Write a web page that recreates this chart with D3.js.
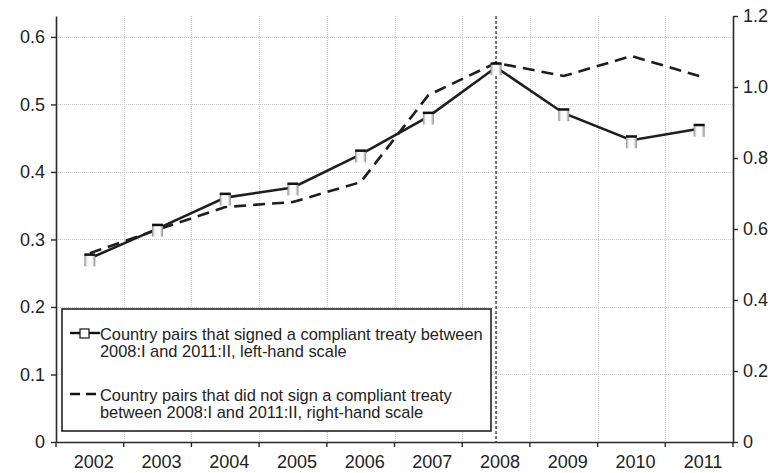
<!DOCTYPE html>
<html>
<head>
<meta charset="utf-8">
<script src="https://cdn.jsdelivr.net/npm/d3@7"></script>
<style>
  body { margin: 0; background: #fff; }
  svg { display: block; font-family: "Liberation Sans", Arial, sans-serif; }
</style>
</head>
<body>
<svg id="chart"></svg>
<script>
// data
var years = ["2002","2003","2004","2005","2006","2007","2008","2009","2010","2011"];
var signed = [0.272, 0.316, 0.362, 0.377, 0.426, 0.482, 0.555, 0.487, 0.447, 0.464];
var notSigned = [0.532, 0.598, 0.662, 0.676, 0.732, 0.977, 1.068, 1.031, 1.087, 1.031];
var leftTicks = [0, 0.1, 0.2, 0.3, 0.4, 0.5, 0.6];
var rightTicks = [0, 0.2, 0.4, 0.6, 0.8, 1.0, 1.2];
var markerYear = "2008";
var legendLabels = [
  ["Country pairs that signed a compliant treaty between", "2008:I and 2011:II, left-hand scale"],
  ["Country pairs that did not sign a compliant treaty", "between 2008:I and 2011:II, right-hand scale"]
];

// size params
var W = 776, H = 473;
var margin = {top: 16, right: 43, bottom: 31, left: 56};
var width = W - margin.left - margin.right;
var height = H - margin.top - margin.bottom;

var svg = d3.select("#chart").attr("width", W).attr("height", H);
var g = svg.append("g").attr("transform", "translate(" + margin.left + "," + margin.top + ")");

// scales
var x = d3.scaleBand().domain(years).range([0, width]);
var yL = d3.scaleLinear().domain([0, 0.631]).range([height, 0]);
var yR = d3.scaleLinear().domain([0, 1.2]).range([height, 0]);
var cx = function(d) { return x(d) + x.bandwidth() / 2; };

// grid
var grid = g.append("g").attr("stroke", "#cfcfcf").attr("stroke-width", 1.2).attr("stroke-dasharray", "1,1");
leftTicks.slice(1).forEach(function(t) {
  grid.append("line").attr("x1", 0).attr("x2", width)
    .attr("y1", Math.round(yL(t)) + 0.5).attr("y2", Math.round(yL(t)) + 0.5);
});
years.slice(1).forEach(function(yr) {
  grid.append("line").attr("y1", 0).attr("y2", height)
    .attr("x1", Math.round(x(yr)) + 0.5).attr("x2", Math.round(x(yr)) + 0.5);
});

// axes
var axisColor = "#2a2a2a";
function styleAxis(sel) {
  sel.select(".domain").attr("stroke", axisColor).attr("stroke-width", 1.6);
  sel.selectAll(".tick line").attr("stroke", axisColor).attr("stroke-width", 1.4);
  sel.selectAll(".tick text").attr("fill", "#222").attr("font-size", 18)
    .attr("font-family", "Liberation Sans, Arial, sans-serif");
}

g.append("g")
  .call(d3.axisLeft(yL).tickValues(leftTicks).tickSize(5).tickSizeOuter(0).tickPadding(6)
    .tickFormat(function(d) { return d === 0 ? "0" : d3.format(".1f")(d); }))
  .call(styleAxis);

g.append("g")
  .attr("transform", "translate(" + width + ",0)")
  .call(d3.axisRight(yR).tickValues(rightTicks).tickSize(5).tickSizeOuter(0).tickPadding(5)
    .tickFormat(function(d) { return d === 0 ? "0" : d3.format(".1f")(d); }))
  .call(styleAxis);

var xAxis = g.append("g")
  .attr("transform", "translate(0," + height + ")")
  .call(d3.axisBottom(x).tickSize(0).tickPadding(13))
  .call(styleAxis);
xAxis.selectAll(".tick text").attr("dx", 4);
// ticks at band boundaries
years.concat(["end"]).forEach(function(yr, i) {
  var xp = i < years.length ? x(yr) : width;
  xAxis.append("line").attr("x1", xp).attr("x2", xp).attr("y1", 0).attr("y2", 5)
    .attr("stroke", axisColor).attr("stroke-width", 1.4);
});

// vertical dashed marker line
g.append("line")
  .attr("x1", cx(markerYear)).attr("x2", cx(markerYear))
  .attr("y1", 0).attr("y2", height)
  .attr("stroke", "#333").attr("stroke-width", 1.3).attr("stroke-dasharray", "3,2");

// lines
var lineL = d3.line().x(function(d, i) { return cx(years[i]); }).y(function(d) { return yL(d); });
var lineR = d3.line().x(function(d, i) { return cx(years[i]); }).y(function(d) { return yR(d); });

g.append("path").datum(notSigned).attr("d", lineR)
  .attr("fill", "none").attr("stroke", "#1e1e1e").attr("stroke-width", 2.6)
  .attr("stroke-dasharray", "12,7");

g.append("path").datum(signed).attr("d", lineL)
  .attr("fill", "none").attr("stroke", "#1e1e1e").attr("stroke-width", 2.6);

// markers
var defs = svg.append("defs");
var grad = defs.append("linearGradient").attr("id", "mk").attr("x1", 0).attr("x2", 1);
grad.append("stop").attr("offset", "0%").attr("stop-color", "#8a8a8a");
grad.append("stop").attr("offset", "25%").attr("stop-color", "#f4f6f8");
grad.append("stop").attr("offset", "70%").attr("stop-color", "#ffffff");
grad.append("stop").attr("offset", "100%").attr("stop-color", "#8a8a8a");

var mk = g.selectAll(".mk").data(signed).enter().append("g").attr("class", "mk")
  .attr("transform", function(d, i) { return "translate(" + cx(years[i]) + "," + yL(d) + ")"; });
mk.append("rect").attr("x", -5.5).attr("y", -4).attr("width", 11).attr("height", 12)
  .attr("fill", "url(#mk)");
mk.append("rect").attr("x", -5.5).attr("y", -5).attr("width", 11).attr("height", 2.5)
  .attr("fill", "#111");

// legend
var lg = g.append("g").attr("transform", "translate(" + (62 - margin.left) + "," + (309 - margin.top) + ")");
lg.append("rect").attr("width", 429).attr("height", 122)
  .attr("fill", "#fff").attr("stroke", "#222").attr("stroke-width", 1.6);

var rows = [{y: 24, dash: null}, {y: 85, dash: "10,6"}];
rows.forEach(function(r, i) {
  var item = lg.append("g").attr("transform", "translate(0," + r.y + ")");
  item.append("line").attr("x1", 8).attr("x2", 38).attr("y1", 0).attr("y2", 0)
    .attr("stroke", "#111").attr("stroke-width", 2.4)
    .attr("stroke-dasharray", r.dash);
  if (i === 0) {
    item.append("rect").attr("x", 18).attr("y", -4).attr("width", 9).attr("height", 9)
      .attr("fill", "#fff").attr("stroke", "#111").attr("stroke-width", 1.2);
  }
  legendLabels[i].forEach(function(txt, j) {
    item.append("text").attr("x", 38).attr("y", 7 + j * 16.5)
      .attr("font-size", 16.4).attr("fill", "#222").text(txt);
  });
});
</script>
</body>
</html>
